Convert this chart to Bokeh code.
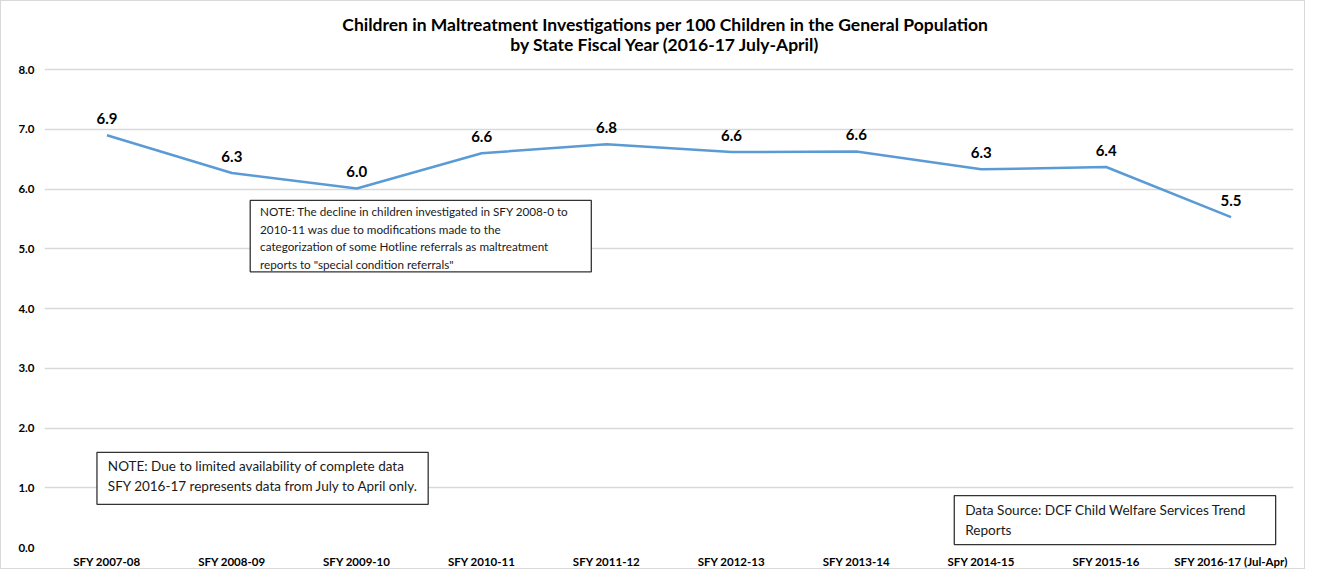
from bokeh.plotting import figure
from bokeh.models import (ColumnDataSource, Label, Range1d, FactorRange,
                          BoxAnnotation, NumeralTickFormatter)
from bokeh.core.properties import value
from bokeh.embed import file_html
from bokeh.resources import INLINE

years = ["SFY 2007-08", "SFY 2008-09", "SFY 2009-10", "SFY 2010-11", "SFY 2011-12",
         "SFY 2012-13", "SFY 2013-14", "SFY 2014-15", "SFY 2015-16", "SFY 2016-17 (Jul-Apr)"]
rates = [6.90, 6.27, 6.01, 6.60, 6.75, 6.62, 6.63, 6.33, 6.37, 5.53]
y_ticks = [0, 1, 2, 3, 4, 5, 6, 7, 8]

title_line1 = "Children in Maltreatment Investigations per 100 Children in the General Population"
title_line2 = "by State Fiscal Year (2016-17 July-April)"
note1 = ("NOTE: The decline in children investigated in SFY 2008-0 to\n"
         "2010-11 was due to modifications made to the\n"
         "categorization of some Hotline referrals as maltreatment\n"
         "reports to \"special condition referrals\"")
note2 = ("NOTE: Due to limited availability of complete data\n"
         "SFY 2016-17 represents data from July to April only.")
note3 = "Data Source: DCF Child Welfare Services Trend\nReports"

FONT = "Lato"

src = ColumnDataSource(dict(x=years, y=rates, lbl=[f"{v:.1f}" for v in rates]))

# the y range extends above 8.0 so that the two-line title sits inside the plot area
p = figure(width=1305, height=569, x_range=FactorRange(*years), y_range=Range1d(0, 9.14),
           output_backend="svg", toolbar_location=None,
           min_border_left=43, min_border_right=13, min_border_top=0, min_border_bottom=22,
           styles={"border": "1px solid #D9D9D9"})

for txt, ty in ((title_line1, 8.756), (title_line2, 8.42)):
    p.add_layout(Label(x=4.97, y=ty, text=txt, text_font=FONT, text_font_size="17.5px",
                       text_font_style="bold", text_color="#000000",
                       text_align="center", text_baseline="middle"))

p.outline_line_color = None
p.xgrid.grid_line_color = None
p.ygrid.grid_line_color = "#D9D9D9"
p.ygrid.grid_line_width = 1.5
p.yaxis.ticker = y_ticks
p.ygrid.ticker = y_ticks
p.yaxis.formatter = NumeralTickFormatter(format="0.0")

for ax in (p.xaxis, p.yaxis):
    ax.axis_line_color = None
    ax.major_tick_line_color = None
    ax.minor_tick_line_color = None
    ax.major_tick_out = 0
    ax.major_tick_in = 0
    ax.minor_tick_out = 0
    ax.major_label_text_font = FONT
    ax.major_label_text_font_style = "bold"
    ax.major_label_text_font_size = "11.5px"
    ax.major_label_text_color = "#000000"
p.yaxis.major_label_standoff = 10
p.xaxis.major_label_standoff = 7

p.line("x", "y", source=src, line_color="#5B9BD5", line_width=2.5)
p.text("x", "y", text="lbl", source=src, text_font=value(FONT), text_font_style="bold",
       text_font_size="15px", text_align="center", text_baseline="bottom",
       y_offset=-11, text_color="#000000")

def note(box, pos, txt, size, lh):
    l, r, t, b = box
    p.add_layout(BoxAnnotation(left=l, right=r, top=t, bottom=b, fill_color="white",
                               fill_alpha=1.0, line_color="#333333", line_alpha=1.0,
                               line_width=1.3))
    p.add_layout(Label(x=pos[0], y=pos[1], text=txt, text_font=FONT, text_font_size=size,
                       text_color="#1a1a1a", text_align="left", text_baseline="top",
                       text_line_height=lh))

note((1.647, 4.378, 5.81, 4.614), (1.726, 5.75), note1, "11.7px", 1.25)
note((0.420, 3.072, 1.593, 0.722), (0.507, 1.49), note2, "13.5px", 1.25)
note((7.284, 9.857, 0.870, 0.049), (7.371, 0.77), note3, "13.6px", 1.25)

open("out.html", "w").write(file_html(p, INLINE))
